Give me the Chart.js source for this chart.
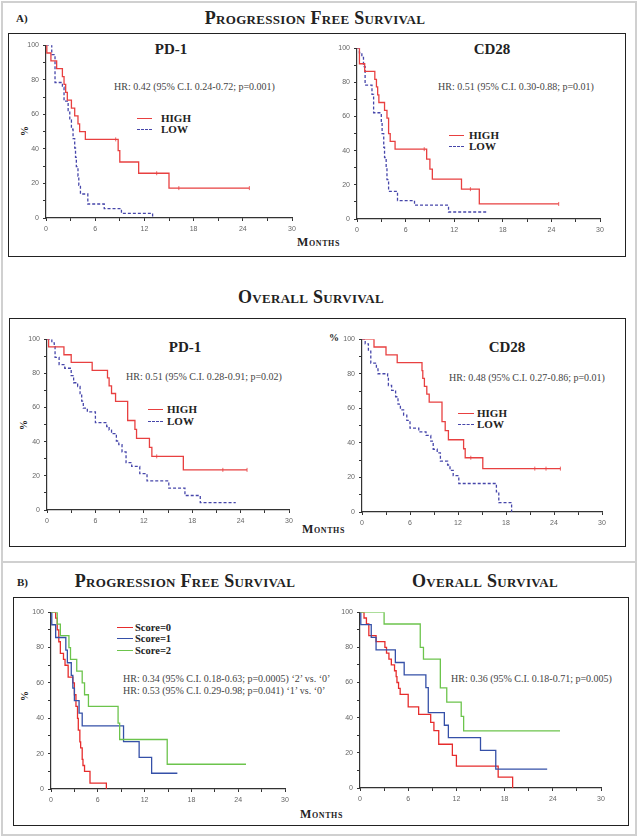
<!DOCTYPE html>
<html>
<head>
<meta charset="utf-8">
<script src="https://cdn.jsdelivr.net/npm/chart.js@4.4.1/dist/chart.umd.min.js"></script>
<style>
  body { margin: 0; background: #fff; }
  #fig { position: relative; width: 642px; height: 837px; background: #fff; font-family: "Liberation Serif", serif; color: #222; overflow: hidden; }
  #fig canvas { position: absolute; }
  .abs { position: absolute; line-height: 1; white-space: nowrap; }
  .frame { position: absolute; box-sizing: border-box; border: 1.5px solid #222; }
  .outer { position: absolute; box-sizing: border-box; border: 2px solid #d0d0d0; }
  .title { font-weight: bold; font-variant: small-caps; font-size: 18px; letter-spacing: 0.3px; text-align: center; }
  .tag { font-weight: bold; font-size: 11px; }
  .mark { font-weight: bold; font-size: 15px; text-align: center; width: 80px; }
  .hr { font-size: 10px; color: #444; }
  .leg { font-weight: bold; font-size: 11px; }
  .legB { font-weight: bold; font-size: 10.5px; }
  .months { font-weight: bold; font-variant: small-caps; font-size: 12px; letter-spacing: 0.6px; }
  .pct { font-weight: bold; font-size: 10px; }
  .rot { transform: translate(-50%, -50%) rotate(-90deg); }
  .sw { position: absolute; height: 0; border-top-width: 1.5px; border-top-style: solid; }
</style>
</head>
<body>
<div id="fig">
  <div class="outer" style="left:1px;top:1px;width:636px;height:835px"></div>
  <div class="abs" style="left:1px;top:561px;width:636px;height:2px;background:#d0d0d0"></div>

  <!-- A: progression free survival -->
  <div class="abs tag" style="left:16px;top:13px">A)</div>
  <div class="abs title" style="left:115px;top:9px;width:400px">Progression Free Survival</div>
  <div class="frame" style="left:8px;top:33px;width:618px;height:224px"></div>
  <div class="abs mark" style="left:131px;top:42px">PD-1</div>
  <div class="abs mark" style="left:452px;top:42px">CD28</div>
  <div class="abs hr" style="left:114px;top:82px">HR: 0.42 (95% C.I. 0.24-0.72; p=0.001)</div>
  <div class="abs hr" style="left:438px;top:82px">HR: 0.51 (95% C.I. 0.30-0.88; p=0.01)</div>
  <div class="sw" style="left:137px;top:118px;width:15px;border-color:#e84040"></div>
  <div class="sw" style="left:137px;top:129px;width:15px;border-color:#4646aa;border-top-style:dashed"></div>
  <div class="abs leg" style="left:161px;top:113px">HIGH</div>
  <div class="abs leg" style="left:161px;top:124px">LOW</div>
  <div class="sw" style="left:449px;top:135px;width:15px;border-color:#e84040"></div>
  <div class="sw" style="left:449px;top:146px;width:15px;border-color:#4646aa;border-top-style:dashed"></div>
  <div class="abs leg" style="left:469px;top:130px">HIGH</div>
  <div class="abs leg" style="left:469px;top:141px">LOW</div>
  <div class="abs pct rot" style="left:25px;top:131px">%</div>
  <div class="abs months" style="left:297px;top:236px">Months</div>

  <!-- A: overall survival -->
  <div class="abs title" style="left:111px;top:288px;width:400px">Overall Survival</div>
  <div class="frame" style="left:9px;top:318px;width:617px;height:229px"></div>
  <div class="abs mark" style="left:145px;top:340px">PD-1</div>
  <div class="abs mark" style="left:467px;top:340px">CD28</div>
  <div class="abs hr" style="left:126px;top:372px">HR: 0.51 (95% C.I. 0.28-0.91; p=0.02)</div>
  <div class="abs hr" style="left:449px;top:373px">HR: 0.48 (95% C.I. 0.27-0.86; p=0.01)</div>
  <div class="sw" style="left:148px;top:409px;width:15px;border-color:#e84040"></div>
  <div class="sw" style="left:148px;top:421px;width:15px;border-color:#4646aa;border-top-style:dashed"></div>
  <div class="abs leg" style="left:167px;top:404px">HIGH</div>
  <div class="abs leg" style="left:167px;top:416px">LOW</div>
  <div class="sw" style="left:458px;top:413px;width:16px;border-color:#e84040"></div>
  <div class="sw" style="left:458px;top:424px;width:16px;border-color:#4646aa;border-top-style:dashed"></div>
  <div class="abs leg" style="left:477px;top:408px">HIGH</div>
  <div class="abs leg" style="left:477px;top:419px">LOW</div>
  <div class="abs pct rot" style="left:24px;top:425px">%</div>
  <div class="abs pct" style="left:329px;top:333px">%</div>
  <div class="abs months" style="left:302px;top:523px">Months</div>

  <!-- B: score -->
  <div class="abs tag" style="left:17px;top:577px">B)</div>
  <div class="abs title" style="left:35px;top:572px;width:300px">Progression Free Survival</div>
  <div class="abs title" style="left:335px;top:572px;width:300px">Overall Survival</div>
  <div class="frame" style="left:13px;top:597px;width:616px;height:229px"></div>
  <div class="sw" style="left:117px;top:627px;width:16px;border-color:#e62c2c"></div>
  <div class="sw" style="left:117px;top:638px;width:16px;border-color:#3550a8"></div>
  <div class="sw" style="left:117px;top:650px;width:16px;border-color:#6cc44c"></div>
  <div class="abs legB" style="left:135px;top:623px">Score=0</div>
  <div class="abs legB" style="left:135px;top:634px">Score=1</div>
  <div class="abs legB" style="left:135px;top:646px">Score=2</div>
  <div class="abs hr" style="left:123px;top:674px">HR: 0.34 (95% C.I. 0.18-0.63; p=0.0005) ‘2’ vs. ‘0’</div>
  <div class="abs hr" style="left:123px;top:686px">HR: 0.53 (95% C.I. 0.29-0.98; p=0.041) ‘1’ vs. ‘0’</div>
  <div class="abs hr" style="left:451px;top:674px">HR: 0.36 (95% C.I. 0.18-0.71; p=0.005)</div>
  <div class="abs pct rot" style="left:25px;top:696px">%</div>
  <div class="abs months" style="left:300px;top:808px">Months</div>

  <canvas id="pfsPd1"></canvas>
  <canvas id="pfsCd28"></canvas>
  <canvas id="osPd1"></canvas>
  <canvas id="osCd28"></canvas>
  <canvas id="pfsScore"></canvas>
  <canvas id="osScore"></canvas>
</div>

<script>
// axis ticks
const monthTicks = [0, 6, 12, 18, 24, 30];
const pctTicks = [0, 20, 40, 60, 80, 100];

// A) PFS, PD-1
const pfsPd1HighT = [0, 0.1, 0.6, 1.3, 2.0, 2.2, 2.4, 2.6, 3.1, 3.5, 3.9, 4.1, 4.8, 8.8, 9.0, 11.3, 15.0, 24.8];
const pfsPd1HighS = [100, 95.5, 90.9, 86.4, 81.8, 77.3, 72.7, 68.2, 63.6, 59.1, 54.5, 50.0, 45.5, 39.0, 32.4, 25.9, 17.3, 17.3];
const pfsPd1HighCensT = [8.5, 13.5, 16.2, 24.8];
const pfsPd1HighCensS = [45.5, 25.9, 17.3, 17.3];
const pfsPd1LowT = [0, 0.7, 1.1, 2.0, 2.2, 2.7, 2.9, 3.1, 3.3, 3.5, 3.6, 3.7, 3.9, 4.0, 4.2, 5.1, 7.1, 9.2, 13.0];
const pfsPd1LowS = [100, 94.6, 78.4, 75.7, 67.6, 62.2, 56.8, 51.4, 45.9, 40.5, 35.1, 29.7, 24.3, 18.9, 13.9, 8.1, 5.4, 2.7, 0];

// A) PFS, CD28
const pfsCd28HighT = [0, 0.3, 0.95, 2.2, 2.4, 2.55, 2.7, 3.4, 3.7, 3.9, 4.1, 4.7, 8.6, 9.0, 9.3, 12.9, 15.1, 24.9];
const pfsCd28HighS = [100, 90.9, 86.4, 81.8, 77.3, 72.7, 68.2, 63.6, 59.1, 50.0, 45.5, 40.9, 35.1, 29.2, 23.4, 17.5, 8.8, 8.8];
const pfsCd28HighCensT = [8.3, 14.0, 24.9];
const pfsCd28HighCensS = [40.9, 17.5, 8.8];
const pfsCd28LowT = [0, 0.3, 0.6, 0.8, 1.0, 1.85, 2.05, 3.0, 3.1, 3.3, 3.4, 3.6, 3.7, 3.9, 5.0, 7.1, 11.3, 16.2];
const pfsCd28LowS = [100, 97.3, 94.6, 89.2, 78.4, 73.0, 62.2, 56.8, 50.0, 42.0, 36.0, 30.0, 23.0, 16.2, 10.8, 8.1, 4.1, 4.1];

// A) OS, PD-1
const osPd1HighT = [0, 0.2, 2.1, 3.0, 5.6, 7.5, 7.7, 8.0, 8.5, 10.0, 10.9, 11.1, 12.7, 13.0, 16.9, 24.8];
const osPd1HighS = [100, 95.5, 90.9, 86.4, 81.8, 77.3, 72.7, 68.2, 63.6, 52.4, 47.2, 41.9, 36.7, 31.4, 23.5, 23.5];
const osPd1HighCensT = [13.6, 21.8, 24.8];
const osPd1HighCensS = [31.4, 23.5, 23.5];
const osPd1LowT = [0, 0.6, 0.9, 1.0, 1.5, 2.2, 3.0, 3.3, 3.8, 4.1, 4.3, 4.5, 5.0, 6.0, 7.4, 7.7, 8.0, 8.6, 8.9, 9.3, 9.8, 10.5, 11.5, 12.4, 15.1, 17.1, 19.0, 23.4];
const osPd1LowS = [100, 97.9, 95.7, 89.4, 85.1, 83.0, 78.7, 74.5, 72.3, 68.1, 63.8, 59.6, 57.4, 51.1, 48.9, 46.8, 44.7, 40.4, 38.3, 34.0, 27.7, 25.5, 21.3, 17.0, 12.8, 8.5, 4.3, 4.3];

// A) OS, CD28
const osCd28HighT = [0, 1.5, 3.0, 4.4, 7.5, 7.6, 7.8, 8.1, 8.4, 10.0, 10.4, 10.8, 12.7, 12.9, 15.1, 24.8];
const osCd28HighS = [100, 95.5, 90.9, 86.4, 81.8, 77.3, 72.7, 68.2, 63.6, 52.3, 47.1, 41.8, 36.6, 31.4, 25.1, 25.1];
const osCd28HighCensT = [13.6, 21.6, 23.0, 24.8];
const osCd28HighCensS = [31.4, 25.1, 25.1, 25.1];
const osCd28LowT = [0, 0.4, 0.8, 1.1, 1.8, 2.0, 3.2, 3.3, 3.7, 4.2, 4.5, 4.8, 5.2, 5.6, 6.0, 7.1, 8.0, 8.6, 8.9, 9.4, 9.8, 10.7, 11.0, 11.4, 12.1, 16.8, 17.1, 18.7];
const osCd28LowS = [100, 97.3, 93.1, 86.2, 82.8, 80.0, 77.3, 73.2, 70.4, 66.7, 62.4, 59.1, 56.1, 53.0, 48.5, 46.4, 44.3, 41.0, 36.3, 34.2, 29.4, 27.2, 24.1, 21.0, 16.5, 11.6, 5.4, 0];

// B) PFS by score
const pfsScore0T = [0, 0.6, 0.8, 1.0, 1.2, 1.6, 1.8, 2.2, 2.8, 3.0, 3.2, 3.4, 3.5, 3.7, 3.8, 4.0, 4.1, 4.3, 5.0, 7.1];
const pfsScore0S = [100, 96.7, 90.0, 83.3, 76.7, 73.3, 70.0, 63.3, 60.0, 53.3, 46.7, 40.0, 33.3, 26.7, 23.3, 16.7, 13.3, 10.0, 3.3, 0];
const pfsScore1T = [0, 0.1, 0.6, 1.9, 2.1, 2.6, 2.8, 3.0, 3.6, 4.0, 9.3, 11.3, 12.9, 16.2];
const pfsScore1S = [100, 92.9, 85.7, 78.6, 71.4, 64.3, 57.1, 50.0, 42.9, 35.7, 26.8, 17.9, 8.9, 8.9];
const pfsScore2T = [0, 0.8, 1.2, 2.3, 2.5, 3.3, 4.0, 4.3, 4.8, 8.6, 8.8, 14.9, 25.0];
const pfsScore2S = [100, 93.3, 86.7, 80.0, 73.3, 66.7, 60.0, 53.3, 46.7, 37.3, 28.0, 14.0, 14.0];

// B) OS by score
const osScore0T = [0, 0.5, 0.8, 1.1, 2.0, 3.1, 3.3, 3.6, 3.9, 4.3, 4.5, 4.6, 4.8, 5.0, 6.0, 7.3, 8.8, 9.2, 9.8, 11.5, 12.0, 17.2, 19.0];
const osScore0S = [100, 96.7, 93.3, 86.7, 83.3, 80.0, 76.7, 73.3, 70.0, 66.7, 63.3, 60.0, 56.7, 53.3, 46.2, 41.9, 37.3, 32.6, 24.9, 18.6, 12.4, 6.2, 0];
const osScore1T = [0, 0.1, 1.4, 2.0, 4.4, 5.5, 8.2, 8.5, 10.5, 11.0, 15.0, 16.9, 23.3];
const osScore1S = [100, 92.9, 85.7, 78.6, 71.4, 64.3, 57.1, 42.9, 35.7, 28.6, 21.4, 10.7, 10.7];
const osScore2T = [0, 3.0, 7.5, 7.9, 10.0, 10.8, 12.6, 12.9, 24.9];
const osScore2S = [100, 93.3, 80.0, 73.3, 56.9, 48.8, 40.7, 32.5, 32.5];

const RED = "#e84040";
const BLUE_DASH = "#4646aa";
const S_RED = "#e62c2c";
const S_BLUE = "#3550a8";
const S_GREEN = "#6cc44c";

// canvas margins around the plot area
const AX_W = 24, AX_H = 16, PAD_T = 8, PAD_R = 8;

function pts(t, s) {
  return t.map((x, i) => ({ x: x, y: s[i] }));
}

function curve(t, s, color, dashed) {
  return {
    data: pts(t, s),
    borderColor: color,
    borderWidth: 1.3,
    borderDash: dashed ? [3, 2] : [],
    stepped: true,
    pointRadius: 0,
    fill: false,
  };
}

// small vertical ticks for censored cases
function censor(t, s, color) {
  return {
    data: pts(t, s),
    showLine: false,
    borderColor: color,
    borderWidth: 0.8,
    pointStyle: "line",
    rotation: 90,
    pointRadius: 2,
  };
}

function kmChart(id, area, datasets) {
  const canvas = document.getElementById(id);
  canvas.width = area.r - area.l + AX_W + PAD_R;
  canvas.height = area.b - area.t + PAD_T + AX_H;
  canvas.style.left = area.l - AX_W + "px";
  canvas.style.top = area.t - PAD_T + "px";

  const tickFont = { family: "Liberation Sans", size: 7 };
  const grid = { drawOnChartArea: false, drawTicks: true, tickLength: 3, color: "#333" };
  const border = { display: true, color: "#333", width: 1.2 };

  return new Chart(canvas.getContext("2d"), {
    type: "line",
    data: { datasets: datasets },
    options: {
      responsive: false,
      animation: false,
      devicePixelRatio: 1,
      layout: { padding: { top: PAD_T, right: PAD_R, left: 0, bottom: 0 } },
      plugins: { legend: { display: false }, tooltip: { enabled: false } },
      scales: {
        x: {
          type: "linear",
          min: 0,
          max: 30,
          grid: grid,
          border: border,
          ticks: {
            stepSize: 3,
            autoSkip: false,
            maxRotation: 0,
            padding: 4,
            color: "#666",
            font: tickFont,
            callback: (v) => (monthTicks.includes(v) ? v : ""),
          },
          afterFit: (scale) => {
            scale.height = AX_H;
          },
        },
        y: {
          min: 0,
          max: 100,
          grid: grid,
          border: border,
          ticks: {
            stepSize: 10,
            autoSkip: false,
            padding: 4,
            color: "#666",
            font: tickFont,
            callback: (v) => (pctTicks.includes(v) ? v : ""),
          },
          afterFit: (scale) => {
            scale.width = AX_W;
          },
        },
      },
    },
  });
}

document.addEventListener("DOMContentLoaded", () => {
  kmChart("pfsPd1", { l: 46, r: 292, t: 45, b: 218 }, [
    curve(pfsPd1HighT, pfsPd1HighS, RED, false),
    curve(pfsPd1LowT, pfsPd1LowS, BLUE_DASH, true),
    censor(pfsPd1HighCensT, pfsPd1HighCensS, RED),
  ]);

  kmChart("pfsCd28", { l: 357, r: 600, t: 48, b: 219 }, [
    curve(pfsCd28HighT, pfsCd28HighS, RED, false),
    curve(pfsCd28LowT, pfsCd28LowS, BLUE_DASH, true),
    censor(pfsCd28HighCensT, pfsCd28HighCensS, RED),
  ]);

  kmChart("osPd1", { l: 47, r: 289, t: 339, b: 510 }, [
    curve(osPd1HighT, osPd1HighS, RED, false),
    curve(osPd1LowT, osPd1LowS, BLUE_DASH, true),
    censor(osPd1HighCensT, osPd1HighCensS, RED),
  ]);

  kmChart("osCd28", { l: 362, r: 602, t: 339, b: 512 }, [
    curve(osCd28HighT, osCd28HighS, RED, false),
    curve(osCd28LowT, osCd28LowS, BLUE_DASH, true),
    censor(osCd28HighCensT, osCd28HighCensS, RED),
  ]);

  kmChart("pfsScore", { l: 51, r: 285, t: 612, b: 789 }, [
    curve(pfsScore2T, pfsScore2S, S_GREEN, false),
    curve(pfsScore1T, pfsScore1S, S_BLUE, false),
    curve(pfsScore0T, pfsScore0S, S_RED, false),
  ]);

  kmChart("osScore", { l: 360, r: 601, t: 612, b: 788 }, [
    curve(osScore2T, osScore2S, S_GREEN, false),
    curve(osScore1T, osScore1S, S_BLUE, false),
    curve(osScore0T, osScore0S, S_RED, false),
  ]);
});
</script>
</body>
</html>
